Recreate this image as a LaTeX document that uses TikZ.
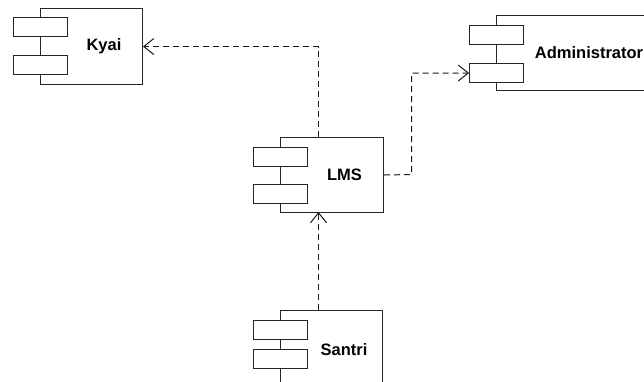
\documentclass[tikz,border=0pt]{standalone}
\usepackage{fontspec}
\setmainfont{Liberation Sans}
\usetikzlibrary{arrows.meta}
\begin{document}
\begin{tikzpicture}[x=1pt,y=-1pt,
  line width=1pt,
  body/.style={draw=black!85,fill=white,rectangle,inner sep=0pt},
  port/.style={draw=black!85,fill=white,rectangle,inner sep=0pt,minimum width=54,minimum height=19},
  label/.style={font=\bfseries\fontsize{16.5}{18}\selectfont,inner sep=0pt},
  dep/.style={draw=black!90,dash pattern=on 6pt off 4pt,-{Straight Barb[length=10pt,width=16pt,line width=1pt]}}]
\clip (0,0) rectangle (644,381);
\useasboundingbox (0,0) rectangle (644,381);
\fill[white] (0,0) rectangle (644,381);
% component: body box, two ports on its left edge, bold name
\newcommand\umlcomp[8]{%
  % #1 name, #2 left, #3 top, #4 right, #5 bottom, #6 port1 top, #7 port2 top, #8 text
  \node[body,minimum width={#4-#2},minimum height={#5-#3},anchor=north west] (#1) at (#2,#3) {};
  \node[port,anchor=north west] (#1p1) at (#2-27,#6) {};
  \node[port,anchor=north west] (#1p2) at (#2-27,#7) {};
  \node[label] (#1t) at ({(#2+#4)/2+13},{(#3+#5)/2}) {#8};
}
\umlcomp{kyai}{40}{8}{142}{84}{17}{55}{Kyai}
\umlcomp{adm}{496}{15}{656}{90}{25}{63}{Administrator}
\umlcomp{lms}{280}{137}{383}{212}{147}{184}{LMS}
\umlcomp{santri}{280}{310}{382}{390}{320}{349}{Santri}
% dependencies
\coordinate (lmsTop) at (318.5,137);
\coordinate (lmsBot) at (318.5,212);
\coordinate (santriTop) at (318.5,310);
\coordinate (bend) at (411.5,174.5);
\draw[dep] (lmsTop) |- (kyai.east);
\draw[dep] (lms.east) -- (bend) |- (admp2.west);
\draw[dep] (santriTop) -- (lmsBot);
\end{tikzpicture}
\end{document}
